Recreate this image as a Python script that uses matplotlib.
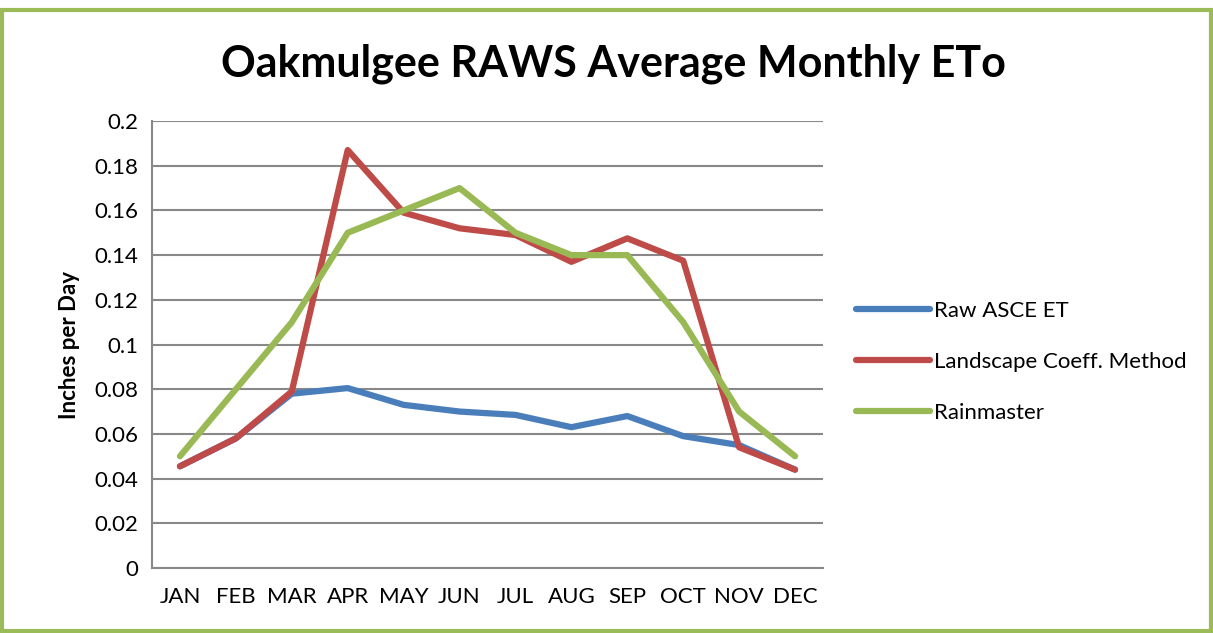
import matplotlib.pyplot as plt
from matplotlib.patches import Rectangle

months = ['JAN', 'FEB', 'MAR', 'APR', 'MAY', 'JUN', 'JUL', 'AUG', 'SEP', 'OCT', 'NOV', 'DEC']
raw_asce = [0.0455, 0.058, 0.078, 0.0805, 0.073, 0.070, 0.0685, 0.063, 0.068, 0.059, 0.055, 0.044]
landscape = [0.0455, 0.058, 0.079, 0.187, 0.159, 0.152, 0.149, 0.137, 0.1475, 0.1375, 0.054, 0.044]
rainmaster = [0.05, 0.08, 0.11, 0.15, 0.16, 0.17, 0.15, 0.14, 0.14, 0.11, 0.07, 0.05]

plt.rcParams['font.family'] = ['Lato', 'DejaVu Sans']

fig = plt.figure(figsize=(12.13, 6.33), dpi=100)
ax = fig.add_axes([0.1253, 0.1027, 0.5532, 0.7061])

x = range(len(months))
ax.plot(x, raw_asce, color='#4A7EBB', lw=4.5, label='Raw ASCE ET', solid_capstyle='round')
ax.plot(x, landscape, color='#BE4B48', lw=4.5, label='Landscape Coeff. Method', solid_capstyle='round')
ax.plot(x, rainmaster, color='#98B954', lw=4.5, label='Rainmaster', solid_capstyle='round')

ax.set_xlim(-0.5, 11.5)
ax.set_ylim(0, 0.2)
ax.set_yticks([i * 0.02 for i in range(11)])
ax.set_yticklabels(['0', '0.02', '0.04', '0.06', '0.08', '0.1', '0.12', '0.14', '0.16', '0.18', '0.2'])
ax.set_xticks(list(x))
ax.set_xticklabels(months)
ax.tick_params(length=0, labelsize=16, pad=10)
ax.tick_params(axis='x', pad=14)
ax.grid(axis='y', color='#888888', lw=1.5)
ax.set_axisbelow(True)
for side in ['top', 'right']:
    ax.spines[side].set_visible(False)
for side in ['left', 'bottom']:
    ax.spines[side].set_color('#888888')
    ax.spines[side].set_linewidth(1.5)

ax.set_ylabel('Inches per Day', fontsize=16, fontweight='bold', labelpad=10)
fig.text(0.506, 0.9, 'Oakmulgee RAWS Average Monthly ETo', ha='center', va='center',
         fontsize=31, fontweight='bold')

ax.legend(loc='center left', bbox_to_anchor=(1.02, 0.461), frameon=False, fontsize=16,
          handlelength=3.3, handletextpad=0.2, labelspacing=1.4)

# green outer frame
fig.patches.append(Rectangle((0.002, 0.003), 0.996, 0.981, transform=fig.transFigure,
                             fill=False, edgecolor='#9BBB59', lw=3))

fig.savefig('out.png', dpi=100)
